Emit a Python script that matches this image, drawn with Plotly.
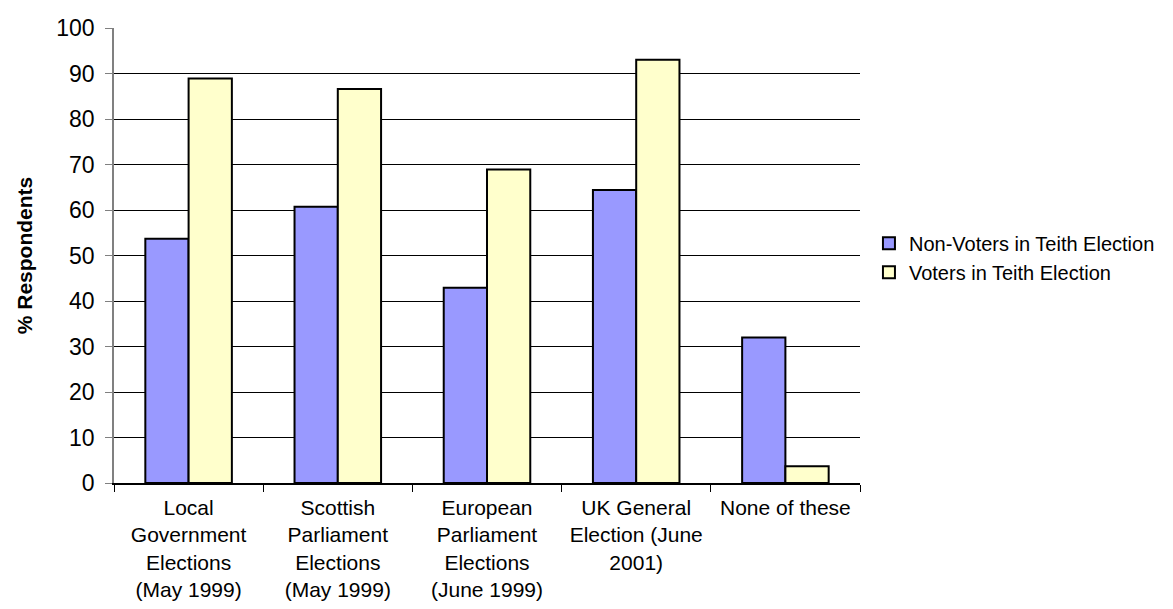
import plotly.graph_objects as go

categories = [
    "Local<br>Government<br>Elections<br>(May 1999)",
    "Scottish<br>Parliament<br>Elections<br>(May 1999)",
    "European<br>Parliament<br>Elections<br>(June 1999)",
    "UK General<br>Election (June<br>2001)",
    "None of these",
]
non_voters = [53.7, 60.7, 42.9, 64.4, 32.0]
voters = [88.9, 86.6, 68.9, 93.0, 3.7]
y_ticks = list(range(0, 101, 10))

FONT = "Arial, Liberation Sans, sans-serif"

fig = go.Figure()
fig.add_trace(go.Bar(
    x=categories, y=non_voters, name="Non-Voters in Teith Election",
    marker=dict(color="#9999FF", line=dict(color="black", width=2)),
))
fig.add_trace(go.Bar(
    x=categories, y=voters, name="Voters in Teith Election",
    marker=dict(color="#FFFFCC", line=dict(color="black", width=2)),
))

fig.update_layout(
    width=1173, height=609,
    margin=dict(l=114, r=313, t=28, b=126),
    paper_bgcolor="white", plot_bgcolor="white",
    barmode="group", bargap=0.42, bargroupgap=0,
    font=dict(family=FONT, color="black", size=21),
    showlegend=True,
    legend=dict(x=1.012, y=0.495, xanchor="left", yanchor="middle",
                font=dict(size=20, family=FONT), tracegroupgap=2,
                itemwidth=30, bgcolor="rgba(0,0,0,0)"),
)
fig.update_yaxes(
    range=[0, 100], tickvals=y_ticks, showgrid=True, gridcolor="black", gridwidth=1,
    showline=True, linecolor="#808080", linewidth=1.5,
    ticks="outside", ticklen=7, tickcolor="#808080", ticklabelstandoff=6,
    tickfont=dict(size=23, family=FONT), zeroline=False, automargin=False,
    title=dict(text="<b>% Respondents</b>", font=dict(size=21, family=FONT), standoff=18),
)
fig.update_xaxes(
    showline=True, linecolor="black", linewidth=1.5,
    ticks="outside", tickson="boundaries", ticklen=7, tickcolor="black",
    tickfont=dict(size=21, family=FONT), tickangle=0, ticklabelstandoff=5,
    automargin=False,
)

fig.write_html("out.html")
